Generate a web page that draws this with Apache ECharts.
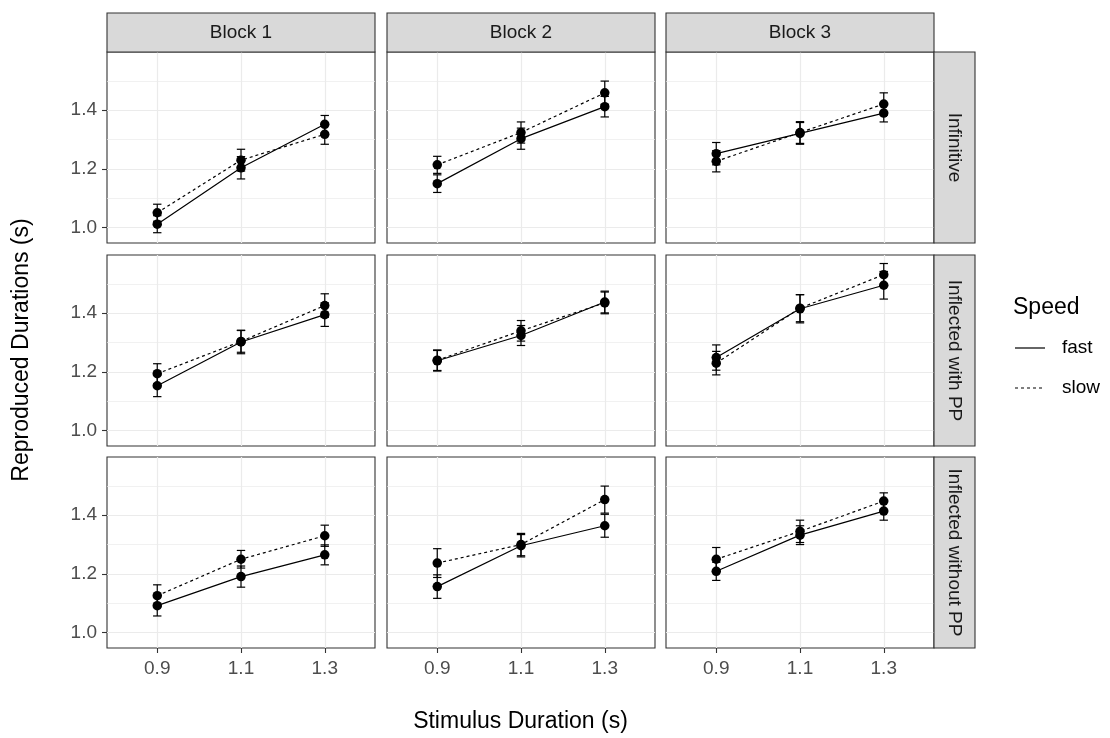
<!DOCTYPE html>
<html><head><meta charset="utf-8">
<script src="https://cdn.jsdelivr.net/npm/echarts@6/dist/echarts.min.js"></script>
<style>html,body{margin:0;padding:0;background:#fff}#c{width:1110px;height:738px}</style>
</head><body><div id="c"></div>
<script>
// ---- data ----
const blocks = ['Block 1', 'Block 2', 'Block 3'];
const conditions = ['Infinitive', 'Inflected with PP', 'Inflected without PP'];
const stimulus = [0.9, 1.1, 1.3];
const xTickValues = [0.9, 1.1, 1.3];
const yTickValues = [1.0, 1.2, 1.4];
const yMinorValues = [1.1, 1.3, 1.5];
const speeds = ['fast', 'slow'];
// means [condition][block][stimulus]
const fastMean = [
  [[1.012, 1.204, 1.352], [1.150, 1.303, 1.412], [1.252, 1.321, 1.390]],
  [[1.153, 1.302, 1.395], [1.238, 1.324, 1.438], [1.249, 1.415, 1.495]],
  [[1.092, 1.191, 1.265], [1.157, 1.296, 1.364], [1.209, 1.332, 1.414]]
];
const slowMean = [
  [[1.051, 1.230, 1.318], [1.214, 1.324, 1.459], [1.226, 1.324, 1.421]],
  [[1.194, 1.304, 1.426], [1.240, 1.340, 1.435], [1.230, 1.417, 1.531]],
  [[1.126, 1.250, 1.330], [1.237, 1.300, 1.453], [1.250, 1.345, 1.448]]
];
// standard errors [condition][block][stimulus]
const fastSE = [
  [[0.029, 0.038, 0.030], [0.030, 0.036, 0.035], [0.038, 0.037, 0.030]],
  [[0.037, 0.040, 0.040], [0.035, 0.034, 0.037], [0.043, 0.048, 0.047]],
  [[0.035, 0.036, 0.034], [0.040, 0.038, 0.039], [0.031, 0.032, 0.031]]
];
const slowSE = [
  [[0.029, 0.037, 0.034], [0.029, 0.036, 0.040], [0.036, 0.037, 0.038]],
  [[0.034, 0.037, 0.040], [0.035, 0.035, 0.037], [0.040, 0.046, 0.038]],
  [[0.037, 0.030, 0.036], [0.049, 0.038, 0.046], [0.040, 0.038, 0.028]]
];

// ---- layout ----
const FONT = 'Liberation Sans, Arial, sans-serif';
const colLeft = [107, 387, 666];
const rowTop = [52, 255, 457];
const panelW = 268, panelH = 191;
const stripH = 39, stripW = 41;
const xMin = 0.78, xMax = 1.42, yMin = 0.948, yMax = 1.598;
const capHalf = 0.01;
const gridColor = '#EBEBEB';

const grids = [], xAxes = [], yAxes = [], series = [], graphics = [];

function errRender(params, api) {
  const x = api.value(0), m = api.value(1), s = api.value(2);
  const top = api.coord([x, m + s]), bot = api.coord([x, m - s]);
  const l = api.coord([x - capHalf, m])[0], r = api.coord([x + capHalf, m])[0];
  const style = { stroke: '#000', lineWidth: 1.2 };
  return { type: 'group', children: [
    { type: 'line', shape: { x1: top[0], y1: top[1], x2: bot[0], y2: bot[1] }, style },
    { type: 'line', shape: { x1: l, y1: top[1], x2: r, y2: top[1] }, style },
    { type: 'line', shape: { x1: l, y1: bot[1], x2: r, y2: bot[1] }, style }
  ]};
}

for (let r = 0; r < 3; r++) {
  for (let c = 0; c < 3; c++) {
    const g = r * 3 + c;
    grids.push({ left: colLeft[c], top: rowTop[r], width: panelW, height: panelH,
      show: true, backgroundColor: '#fff', borderColor: '#333333', borderWidth: 1.1, z: 0 });
    const bottom = r === 2;
    xAxes.push({ type: 'value', gridIndex: g, min: xMin, max: xMax,
      axisLine: { show: false },
      axisTick: { show: bottom, customValues: xTickValues, length: 5, lineStyle: { color: '#333333', width: 1.1 } },
      axisLabel: { show: bottom, customValues: xTickValues, formatter: v => v.toFixed(1), color: '#4D4D4D', fontSize: 19, fontFamily: FONT, margin: 11 },
      splitLine: { show: true, lineStyle: { color: gridColor, width: 1.2 } }
    });
    const left = c === 0;
    yAxes.push({ type: 'value', gridIndex: g, min: yMin, max: yMax, position: 'left',
      axisLine: { show: false },
      axisTick: { show: left, customValues: yTickValues, length: 5, lineStyle: { color: '#333333', width: 1.1 } },
      axisLabel: { show: left, customValues: yTickValues, formatter: v => v.toFixed(1), color: '#4D4D4D', fontSize: 19, fontFamily: FONT, margin: 10 },
      splitLine: { show: true, lineStyle: { color: gridColor, width: 1.2 } }
    });
    yAxes.push({ type: 'value', gridIndex: g, min: yMin, max: yMax, position: 'left',
      axisLine: { show: false },
      axisTick: { show: false, customValues: yMinorValues },
      axisLabel: { show: false, customValues: yMinorValues },
      splitLine: { show: true, lineStyle: { color: gridColor, width: 0.7 } }
    });
    const sets = [
      { name: 'fast', mean: fastMean[r][c], se: fastSE[r][c], type: 'solid' },
      { name: 'slow', mean: slowMean[r][c], se: slowSE[r][c], type: [3, 3] }
    ];
    sets.forEach(s => {
      series.push({ type: 'custom', name: s.name + ' se', xAxisIndex: g, yAxisIndex: 2 * g,
        renderItem: errRender, encode: { x: 0, y: 1 }, z: 3,
        data: stimulus.map((x, i) => [x, s.mean[i], s.se[i]]) });
      series.push({ type: 'line', name: s.name, xAxisIndex: g, yAxisIndex: 2 * g,
        data: stimulus.map((x, i) => [x, s.mean[i]]),
        symbol: 'circle', symbolSize: 9.5, showSymbol: true, z: 4,
        itemStyle: { color: '#000', borderWidth: 0 },
        lineStyle: { color: '#000', width: 1.2, type: s.type } });
    });
  }
}

// strips
blocks.forEach((b, c) => {
  graphics.push({ type: 'rect', shape: { x: colLeft[c], y: rowTop[0] - stripH, width: panelW, height: stripH },
    style: { fill: '#D9D9D9', stroke: '#333333', lineWidth: 1.1 }, z: 10 });
  graphics.push({ type: 'text', x: colLeft[c] + panelW / 2, y: rowTop[0] - stripH / 2,
    style: { text: b, fill: '#1A1A1A', font: '19px ' + FONT, textAlign: 'center', textVerticalAlign: 'middle' }, z: 11 });
});
conditions.forEach((cond, r) => {
  const x0 = colLeft[2] + panelW;
  graphics.push({ type: 'rect', shape: { x: x0, y: rowTop[r], width: stripW, height: panelH },
    style: { fill: '#D9D9D9', stroke: '#333333', lineWidth: 1.1 }, z: 10 });
  graphics.push({ type: 'text', x: x0 + stripW / 2, y: rowTop[r] + panelH / 2, rotation: -Math.PI / 2,
    style: { text: cond, fill: '#1A1A1A', font: '19px ' + FONT, textAlign: 'center', textVerticalAlign: 'middle' }, z: 11 });
});
// axis titles
graphics.push({ type: 'text', x: (colLeft[0] + colLeft[2] + panelW) / 2, y: 722,
  style: { text: 'Stimulus Duration (s)', fill: '#000', font: '23px ' + FONT, textAlign: 'center', textVerticalAlign: 'middle' } });
graphics.push({ type: 'text', x: 22, y: (rowTop[0] + rowTop[2] + panelH) / 2, rotation: Math.PI / 2,
  style: { text: 'Reproduced Durations (s)', fill: '#000', font: '23px ' + FONT, textAlign: 'center', textVerticalAlign: 'middle' } });
// legend
graphics.push({ type: 'text', x: 1013, y: 308,
  style: { text: 'Speed', fill: '#000', font: '23px ' + FONT, textAlign: 'left', textVerticalAlign: 'middle' } });
speeds.forEach((s, i) => {
  const y = 348 + i * 40;
  graphics.push({ type: 'line', shape: { x1: 1015, y1: y, x2: 1045, y2: y },
    style: { stroke: '#000', lineWidth: 1.2, lineDash: i === 0 ? null : [3, 3] } });
  graphics.push({ type: 'text', x: 1062, y: y,
    style: { text: s, fill: '#000', font: '19px ' + FONT, textAlign: 'left', textVerticalAlign: 'middle' } });
});

const chart = echarts.init(document.getElementById('c'), null, { renderer: 'canvas' });
chart.setOption({
  animation: false,
  backgroundColor: '#fff',
  textStyle: { fontFamily: FONT },
  grid: grids, xAxis: xAxes, yAxis: yAxes, series: series, graphic: graphics
});
</script></body></html>
